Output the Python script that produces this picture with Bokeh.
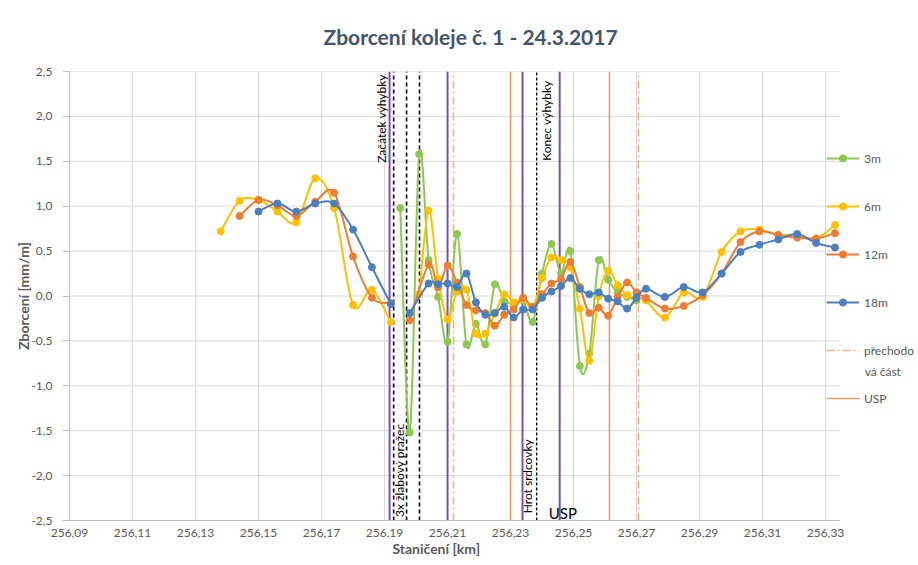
import math
from bokeh.plotting import figure
from bokeh.models import (FixedTicker, CustomJSTickFormatter, Legend, LegendItem,
                          ColumnDataSource, Range1d)
from bokeh.core.properties import value
from bokeh.embed import file_html
from bokeh.resources import INLINE

NaN = float("nan")

# ---------------- data ----------------
title_text = "Zborcení koleje č. 1 - 24.3.2017"
x_title = "Staničení [km]"
y_title = "Zborcení [mm/m]"

x_ticks = [256.09, 256.11, 256.13, 256.15, 256.17, 256.19, 256.21,
           256.23, 256.25, 256.27, 256.29, 256.31, 256.33]
x_tick_labels = ["256,09", "256,11", "256,13", "256,15", "256,17", "256,19", "256,21",
                 "256,23", "256,25", "256,27", "256,29", "256,31", "256,33"]
y_ticks = [-2.5, -2.0, -1.5, -1.0, -0.5, 0.0, 0.5, 1.0, 1.5, 2.0, 2.5]
y_tick_labels = ["-2,5", "-2,0", "-1,5", "-1,0", "-0,5", "0,0", "0,5", "1,0", "1,5", "2,0", "2,5"]

# 3m
x_3m = [256.195, 256.198, 256.201, 256.204, 256.207, 256.210, 256.213, 256.216, 256.219,
        256.222, 256.225, 256.228, 256.231, 256.234, 256.237, 256.240, 256.243, 256.246,
        256.249, 256.252, 256.255, 256.258, 256.261, 256.264, 256.267, 256.270]
y_3m = [0.98, -1.52, 1.58, 0.40, -0.01, -0.51, 0.69, -0.54, -0.31,
        -0.54, 0.13, -0.06, -0.08, -0.05, -0.29, 0.25, 0.58, 0.25,
        0.50, -0.78, -0.64, 0.40, 0.18, 0.04, -0.01, -0.05]

# 6m
x_6m = [256.138, 256.144, 256.150, 256.156, 256.162, 256.168, 256.174, 256.180, 256.186,
        256.192, 256.195, 256.201, 256.204, 256.207, 256.210, 256.213, 256.216, 256.219,
        256.222, 256.225, 256.228, 256.231, 256.234, 256.237, 256.240, 256.243, 256.246,
        256.249, 256.252, 256.255, 256.258, 256.261, 256.264, 256.267, 256.270, 256.273,
        256.279, 256.285, 256.291, 256.297, 256.303, 256.309, 256.315, 256.321, 256.327,
        256.333]
y_6m = [0.72, 1.06, 1.07, 0.94, 0.82, 1.31, 0.98, -0.10, 0.07,
        -0.29, NaN, 0.02, 0.95, 0.19, -0.26, 0.05, 0.07, -0.42,
        -0.42, -0.20, 0.02, -0.07, -0.03, -0.13, 0.20, 0.43, 0.40,
        0.32, -0.14, -0.72, 0.00, 0.28, 0.12, 0.01, -0.02, -0.05,
        -0.24, 0.04, -0.01, 0.49, 0.72, 0.74, 0.68, 0.68, 0.64,
        0.79]

# 12m
x_12m = [256.144, 256.150, 256.156, 256.162, 256.168, 256.174, 256.180, 256.186, 256.192,
         256.195, 256.198, 256.204, 256.207, 256.210, 256.213, 256.216, 256.219, 256.222,
         256.225, 256.228, 256.231, 256.234, 256.237, 256.240, 256.243, 256.246, 256.249,
         256.252, 256.255, 256.258, 256.261, 256.264, 256.267, 256.270, 256.273, 256.279,
         256.285, 256.291, 256.297, 256.303, 256.309, 256.315, 256.321, 256.327, 256.333]
y_12m = [0.89, 1.07, 1.01, 0.89, 1.05, 1.15, 0.44, -0.02, -0.08,
         NaN, -0.27, 0.35, 0.10, 0.34, 0.15, -0.10, -0.16, -0.19,
         -0.33, -0.21, -0.15, -0.02, -0.12, 0.02, 0.14, 0.19, 0.38,
         0.10, -0.19, -0.13, -0.22, -0.01, 0.15, 0.04, -0.02, -0.14,
         -0.11, 0.01, 0.25, 0.60, 0.72, 0.68, 0.65, 0.64, 0.70]

# 18m
x_18m = [256.150, 256.156, 256.162, 256.168, 256.174, 256.180, 256.186, 256.192, 256.195,
         256.198, 256.204, 256.207, 256.210, 256.213, 256.216, 256.219, 256.222, 256.225,
         256.228, 256.231, 256.234, 256.237, 256.240, 256.243, 256.246, 256.249, 256.252,
         256.255, 256.258, 256.261, 256.264, 256.267, 256.270, 256.273, 256.279, 256.285,
         256.291, 256.297, 256.303, 256.309, 256.315, 256.321, 256.327, 256.333]
y_18m = [0.94, 1.03, 0.94, 1.03, 1.03, 0.74, 0.32, -0.09, NaN,
         -0.19, 0.14, 0.13, 0.14, 0.10, 0.25, -0.07, -0.21, -0.19,
         -0.12, -0.24, -0.15, -0.15, -0.02, 0.05, 0.11, 0.20, 0.08,
         0.02, 0.04, -0.03, -0.06, -0.14, -0.02, 0.08, -0.01, 0.10,
         0.04, 0.25, 0.49, 0.57, 0.63, 0.69, 0.59, 0.54]

# vertical marker lines (km)
purple_x = [256.1916, 256.2100, 256.2338, 256.2456]
black_x = [256.1929, 256.1970, 256.2011]
black_fine_x = [256.2383]
usp_x = [256.2300, 256.2614]
trans_x = [256.2119, 256.2706]

# annotations
ann_top_text = ["Začátek výhybky", "Konec výhybky"]
ann_top_x = [256.1890, 256.2414]
ann_top_y = [2.47, 2.40]
ann_bot_text = ["3x žlabový pražec", "Hrot srdcovky"]
ann_bot_x = [256.1947, 256.2355]
ann_bot_y = [-2.46, -2.42]
usp_label_text = ["USP"]
usp_label_x = [256.2466]
usp_label_y = [-2.42]

# legend labels (the transition entry wraps onto a second line, as in the original)
legend_trans_line1 = "přechodo"
legend_trans_line2 = ["vá část"]
legend_trans_line2_x = [256.3424]
legend_trans_line2_y = [-0.84]

series = [
    ("3m", x_3m, y_3m, "#8DC852"),
    ("6m", x_6m, y_6m, "#FFC000"),
    ("12m", x_12m, y_12m, "#ED7D31"),
    ("18m", x_18m, y_18m, "#4B7FBF"),
]

FONT = "Lato"
GREY = "#595959"

# plotted window (axis region ends at X_AXIS_END, the rest of the frame holds the legend)
X_START, X_AXIS_END, X_VIEW_END = 256.09, 256.3345, 256.3595
Y_START, Y_END = -2.5, 2.5

# ---------------- figure ----------------
p = figure(width=918, height=565, output_backend="svg", toolbar_location=None,
           x_range=Range1d(X_START, X_VIEW_END), y_range=Range1d(Y_START, Y_END),
           min_border_left=69, min_border_right=0, min_border_top=71, min_border_bottom=45)
p.outline_line_color = None
p.background_fill_color = "white"
p.border_fill_color = "white"

p.title.text = title_text
p.title.align = "left"
p.title.vertical_align = "middle"
p.title.offset = 254
p.title.text_font = FONT
p.title.text_font_size = "21px"
p.title.text_font_style = "bold"
p.title.text_color = "#44546A"
p.title.standoff = 44

fmt_code = """
let best = 0, d = Infinity;
for (let i = 0; i < tvals.length; i++) {
  const dd = Math.abs(tvals[i] - tick);
  if (dd < d) { d = dd; best = i; }
}
return tlabels[best];
"""
p.xaxis.ticker = FixedTicker(ticks=x_ticks)
p.xaxis.formatter = CustomJSTickFormatter(args=dict(tvals=x_ticks, tlabels=x_tick_labels), code=fmt_code)
p.yaxis.ticker = FixedTicker(ticks=y_ticks)
p.yaxis.formatter = CustomJSTickFormatter(args=dict(tvals=y_ticks, tlabels=y_tick_labels), code=fmt_code)

for ax in (p.xaxis, p.yaxis):
    ax.major_label_text_font = FONT
    ax.major_label_text_font_size = "12px"
    ax.major_label_text_color = GREY
    ax.axis_label_text_font = FONT
    ax.axis_label_text_font_size = "14px"
    ax.axis_label_text_font_style = "bold"
    ax.axis_label_text_color = GREY
    ax.axis_line_color = "#BFBFBF"
    ax.major_tick_line_color = "#BFBFBF"
    ax.minor_tick_line_color = None
    ax.major_tick_in = 0

# the frame is wider than the axis region (legend lives inside it), so the
# centred axis title is padded on the right with em spaces to sit under the axis
p.xaxis.axis_label = x_title + "\u2003" * 11
p.yaxis.axis_label = y_title
p.xaxis.bounds = (X_START, X_AXIS_END)
p.xaxis.major_tick_out = 0
p.yaxis.major_tick_out = 7
p.xaxis.major_label_standoff = 8
p.xaxis.axis_label_standoff = 0
p.yaxis.major_label_standoff = 10
p.yaxis.axis_label_standoff = -4

p.xgrid.grid_line_color = "#D9D9D9"
p.ygrid.grid_line_color = None

# horizontal grid lines limited to the axis region
p.segment(x0=[X_START] * len(y_ticks), y0=y_ticks, x1=[X_AXIS_END] * len(y_ticks), y1=y_ticks,
          line_color="#D9D9D9", line_width=1)

# vertical lines
r_purple = p.segment(x0=purple_x, y0=[Y_START] * len(purple_x), x1=purple_x, y1=[Y_END] * len(purple_x),
                     line_color="#7B4FB8", line_width=2)
r_black = p.segment(x0=black_x, y0=[Y_START] * len(black_x), x1=black_x, y1=[Y_END] * len(black_x),
                    line_color="black", line_width=1.6, line_dash="4 3")
r_black2 = p.segment(x0=black_fine_x, y0=[Y_START] * len(black_fine_x), x1=black_fine_x,
                     y1=[Y_END] * len(black_fine_x), line_color="black", line_width=1.3, line_dash="3 2")
r_usp = p.segment(x0=usp_x, y0=[Y_START] * len(usp_x), x1=usp_x, y1=[Y_END] * len(usp_x),
                  line_color="#EE9A5C", line_width=1.6)
r_trans = p.segment(x0=trans_x, y0=[Y_START] * len(trans_x), x1=trans_x, y1=[Y_END] * len(trans_x),
                    line_color="#F4B183", line_width=1.6, line_dash="8 3 2 3")


def bezier_parts(xs, ys):
    runs, cur = [], []
    for x, y in zip(xs, ys):
        if y != y:
            if cur:
                runs.append(cur)
            cur = []
        else:
            cur.append((x, y))
    if cur:
        runs.append(cur)
    d = dict(x0=[], y0=[], x1=[], y1=[], cx0=[], cy0=[], cx1=[], cy1=[])
    for r in runs:
        n = len(r)
        for i in range(n - 1):
            p0 = r[i - 1] if i > 0 else r[i]
            p1 = r[i]
            p2 = r[i + 1]
            p3 = r[i + 2] if i + 2 < n else r[i + 1]
            d["x0"].append(p1[0]); d["y0"].append(p1[1])
            d["x1"].append(p2[0]); d["y1"].append(p2[1])
            d["cx0"].append(p1[0] + (p2[0] - p0[0]) / 6.0)
            d["cy0"].append(p1[1] + (p2[1] - p0[1]) / 6.0)
            d["cx1"].append(p2[0] - (p3[0] - p1[0]) / 6.0)
            d["cy1"].append(p2[1] - (p3[1] - p1[1]) / 6.0)
    return d


legend_items = []
for name, xs, ys, col in series:
    src = ColumnDataSource(bezier_parts(xs, ys))
    p.bezier(x0="x0", y0="y0", x1="x1", y1="y1", cx0="cx0", cy0="cy0", cx1="cx1", cy1="cy1",
             source=src, line_color=col, line_width=2)
    r_pts = p.scatter(xs, ys, size=7, color=col)
    r_leg = p.line([NaN, NaN], [NaN, NaN], line_color=col, line_width=2)
    legend_items.append(LegendItem(label=name, renderers=[r_leg, r_pts]))

legend_items.append(LegendItem(label=legend_trans_line1, renderers=[r_trans]))
legend_items.append(LegendItem(label="USP", renderers=[r_usp]))

# annotations
p.text(x=ann_top_x, y=ann_top_y, text=ann_top_text, angle=math.pi / 2,
       text_align="right", text_baseline="middle", text_font=value(FONT),
       text_font_size="12px", text_color="black")
p.text(x=ann_bot_x, y=ann_bot_y, text=ann_bot_text, angle=math.pi / 2,
       text_align="left", text_baseline="middle", text_font=value(FONT),
       text_font_size="12px", text_color="black")
p.text(x=usp_label_x, y=usp_label_y, text=usp_label_text,
       text_align="center", text_baseline="middle", text_font=value(FONT),
       text_font_size="15px", text_color="black")
# wrapped second line of the legend entry
p.text(x=legend_trans_line2_x, y=legend_trans_line2_y, text=legend_trans_line2,
       text_align="left", text_baseline="middle", text_font=value(FONT),
       text_font_size="12px", text_color=GREY)

legend = Legend(items=legend_items, location=(757, 113), spacing=30, orientation="vertical",
                border_line_color=None, background_fill_alpha=0, padding=0, margin=0,
                glyph_width=33, glyph_height=18, label_height=18, label_standoff=5,
                label_text_font=FONT, label_text_font_size="12px", label_text_color=GREY)
p.add_layout(legend)

open("out.html", "w").write(file_html(p, INLINE))
